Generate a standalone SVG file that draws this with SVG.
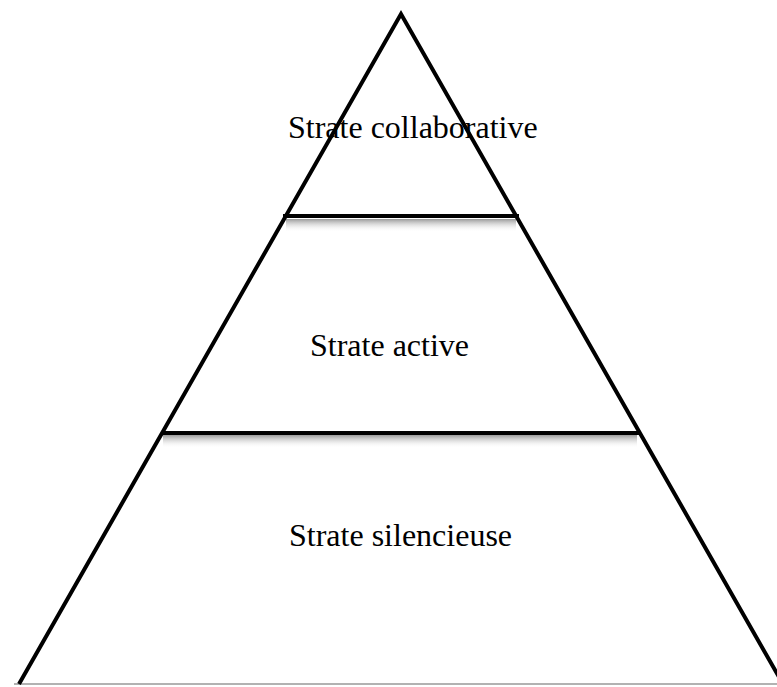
<svg xmlns="http://www.w3.org/2000/svg" width="777" height="687" viewBox="0 0 777 687">
<style>
.lbl{font-family:"Liberation Serif","Times New Roman",serif;font-size:32px;fill:#000}
.edge{stroke:#000;stroke-width:4;fill:none}
.div{stroke:#000;stroke-width:4}
</style>
<defs>
<linearGradient id="sh" x1="0" y1="0" x2="0" y2="1">
<stop offset="0" stop-color="#999"/>
<stop offset="1" stop-color="#fff" stop-opacity="0"/>
</linearGradient>
</defs>
<rect width="777" height="687" fill="#fff"/>
<g id="shadows">
<rect x="286" y="219" width="230" height="13" fill="url(#sh)"/>
<rect x="163" y="435" width="474" height="13" fill="url(#sh)"/>
</g>
<g id="connectors">
<line x1="14" y1="684" x2="777" y2="684" stroke="#666" stroke-width="1.2"/>
<polyline class="edge" points="19,684 401,14 783,684"/>
<line class="div" x1="283" y1="216" x2="519" y2="216"/>
<line class="div" x1="162" y1="433" x2="640" y2="433"/>
</g>
<g id="strate-collaborative"><text class="lbl" x="288" y="138">Strate collaborative</text></g>
<g id="strate-active"><text class="lbl" x="310" y="356">Strate active</text></g>
<g id="strate-silencieuse"><text class="lbl" x="289" y="546">Strate silencieuse</text></g>
</svg>
